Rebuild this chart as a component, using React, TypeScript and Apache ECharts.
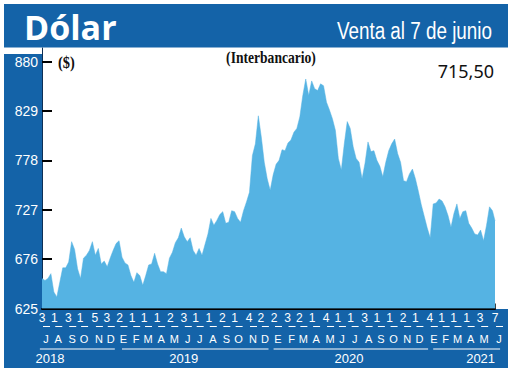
import React, { useEffect, useRef } from "react";
import * as echarts from "echarts";

const START = "2018-07-03";
const END = "2021-06-07";
// weekly interbank dollar quotes (every 7 days from START)
const weeklyValues = [
  656, 654, 656, 661, 642, 637, 652, 667, 667, 673,
  694, 686, 666, 656, 677, 680, 685, 694, 680, 687,
  671, 674, 668, 677, 685, 692, 695, 678, 672, 670,
  659, 652, 662, 659, 649, 659, 670, 671, 682, 671,
  663, 663, 661, 677, 683, 693, 698, 708, 699, 694,
  698, 685, 680, 687, 680, 691, 702, 718, 711, 716,
  722, 725, 713, 714, 726, 725, 718, 714, 726, 735,
  745, 783, 795, 824, 802, 776, 759, 747, 763, 774,
  778, 789, 788, 796, 799, 807, 811, 823, 845, 862,
  845, 860, 852, 850, 857, 855, 838, 830, 821, 809,
  780, 768, 795, 818, 811, 792, 780, 776, 759, 775,
  797, 787, 788, 778, 772, 761, 776, 788, 795, 800,
  785, 776, 757, 756, 764, 769, 759, 746, 732, 720,
  708, 698, 733, 734, 738, 736, 730, 721, 709, 723,
  733, 718, 725, 726, 713, 708, 702, 701, 706, 695,
  711, 730, 726,
];
const lastValue = 715.5;
const lastValueText = "715,50";

const yTicks = [625, 676, 727, 778, 829, 880];

const dayLabelDates = [
  "2018-07-03", "2018-08-01", "2018-09-03", "2018-10-01", "2018-11-05", "2018-12-03",
  "2019-01-02", "2019-02-01", "2019-03-01", "2019-04-01", "2019-05-02", "2019-06-03",
  "2019-07-01", "2019-08-01", "2019-09-02", "2019-10-01", "2019-11-04", "2019-12-02",
  "2020-01-02", "2020-02-03", "2020-03-02", "2020-04-01", "2020-05-04", "2020-06-01",
  "2020-07-01", "2020-08-03", "2020-09-01", "2020-10-01", "2020-11-02", "2020-12-01",
  "2021-01-04", "2021-02-01", "2021-03-01", "2021-04-01", "2021-05-03", "2021-06-07",
];
const monthLetters = [
  "J", "A", "S", "O", "N", "D",
  "E", "F", "M", "A", "M", "J", "J", "A", "S", "O", "N", "D",
  "E", "F", "M", "A", "M", "J", "J", "A", "S", "O", "N", "D",
  "E", "F", "M", "A", "M", "J",
];
const yearLabels = ["2018", "2019", "2020", "2021"];
const yearLabelDates = ["2018-07-22", "2019-06-03", "2020-06-27", "2021-05-04"];
const yearSpans = [
  ["2018-06-28", "2018-12-22"],
  ["2019-01-08", "2019-12-20"],
  ["2020-01-01", "2020-12-31"],
  ["2021-01-12", "2021-06-19"],
];

const BLUE = "#1463a8";
const AREA = "#55b3e3";
const NARROW = "'Liberation Sans Narrow', 'Liberation Sans', Arial, sans-serif";
const DAY = 86400000;

export default function App() {
  const ref = useRef<HTMLDivElement>(null);
  useEffect(() => {
    if (!ref.current) return;
    const chart = echarts.init(ref.current, null, { renderer: "svg" });
    const startTs = Date.parse(START);
    const endTs = Date.parse(END);
    const data: [number, number][] = weeklyValues.map((v, i) => [startTs + i * 7 * DAY, v]);
    data.push([endTs, lastValue]);
    const dayTs = dayLabelDates.map((d) => Date.parse(d));
    const yearTs = yearLabelDates.map((d) => Date.parse(d));

    const baseX = {
      type: "value",
      min: startTs,
      max: endTs,
      gridIndex: 0,
      position: "bottom",
      splitLine: { show: false },
      axisLine: { show: false },
      axisTick: { show: false },
    };

    const staticGraphic: any[] = [
      { type: "rect", z: -1, shape: { x: 4, y: 4, width: 504, height: 43.5 }, style: { fill: BLUE } },
      { type: "rect", z: -1, shape: { x: 4, y: 54, width: 38, height: 314 }, style: { fill: BLUE } },
      { type: "rect", z: -1, shape: { x: 4, y: 309, width: 504, height: 59 }, style: { fill: BLUE } },
      {
        type: "text", z: 10, x: 24, y: 27,
        style: { text: "Dólar", fill: "#fff", font: "bold 34px 'Open Sans', sans-serif", verticalAlign: "middle" },
      },
      {
        type: "text", z: 10, x: 492, y: 31, scaleX: 0.82,
        style: { text: "Venta al 7 de junio", fill: "#fff", font: "23px 'Liberation Sans', sans-serif", align: "right", verticalAlign: "middle" },
      },
      {
        type: "text", z: 10, x: 58, y: 62, scaleX: 0.9,
        style: { text: "($)", fill: "#111", font: "bold 16px 'Liberation Serif', serif", verticalAlign: "middle" },
      },
      {
        type: "text", z: 10, x: 271, y: 58, scaleX: 0.85,
        style: { text: "(Interbancario)", fill: "#111", font: "bold 16px 'Liberation Serif', serif", align: "center", verticalAlign: "middle" },
      },
      {
        type: "text", z: 10, x: 494, y: 71,
        style: { text: lastValueText, fill: "#111", font: "18px 'Noto Sans', sans-serif", align: "right", verticalAlign: "middle" },
      },
    ];

    chart.setOption({
      animation: false,
      backgroundColor: "#fff",
      grid: { left: 42, right: 25, top: 48, bottom: 64.5, containLabel: false },
      xAxis: [
        {
          ...baseX,
          axisLine: { show: true, lineStyle: { color: "#000", width: 2 } },
          axisTick: { show: true, inside: true, length: 5, customValues: [endTs], lineStyle: { color: "#000", width: 1.5 } },
          axisLabel: {
            customValues: dayTs,
            formatter: (v: number) => String(new Date(v).getUTCDate()),
            color: "#fff",
            fontSize: 12,
            fontFamily: NARROW,
            margin: 3,
          },
        },
        {
          ...baseX,
          axisLabel: {
            customValues: dayTs,
            formatter: (v: number) => monthLetters[dayTs.indexOf(v)] ?? "",
            padding: [0, 0, 0, 8],
            color: "#fff",
            fontSize: 11,
            fontFamily: NARROW,
            margin: 25,
          },
        },
        {
          ...baseX,
          axisLabel: {
            customValues: yearTs,
            formatter: (v: number) => yearLabels[yearTs.indexOf(v)] ?? "",
            color: "#fff",
            fontSize: 13,
            fontFamily: NARROW,
            margin: 43,
          },
        },
      ],
      yAxis: {
        type: "value",
        min: 625,
        max: 894,
        splitLine: { show: false },
        axisLine: { show: true, lineStyle: { color: "#0d2f55", width: 1 } },
        axisTick: { show: true, inside: true, length: 10, customValues: yTicks, lineStyle: { color: "#000", width: 2 } },
        axisLabel: {
          customValues: yTicks,
          color: "#fff",
          fontSize: 14,
          fontFamily: NARROW,
          margin: 4,
        },
      },
      series: [
        {
          type: "line",
          xAxisIndex: 0,
          data,
          symbol: "none",
          smooth: false,
          lineStyle: { color: AREA, width: 0.5 },
          areaStyle: { color: AREA, opacity: 1 },
          z: 1,
        },
      ],
      graphic: staticGraphic,
    });

    const px = (t: number) => chart.convertToPixel({ xAxisIndex: 0 }, t) as number;
    const lines = yearSpans.map(([a, b]) => ({
      type: "line", z: 10,
      shape: { x1: px(Date.parse(a)), y1: 349, x2: px(Date.parse(b)), y2: 349 },
      style: { stroke: "#fff", lineWidth: 1 },
    }));
    const dashes = dayTs.map((t) => ({
      type: "line", z: 10,
      shape: { x1: px(t) + 1, y1: 326.5, x2: px(t) + 8, y2: 326.5 },
      style: { stroke: "#fff", lineWidth: 1 },
    }));
    chart.setOption({ graphic: [...staticGraphic, ...lines, ...dashes] });

    return () => chart.dispose();
  }, []);
  return <div ref={ref} style={{ position: "fixed", left: 0, top: 0, width: 520, height: 373 }} />;
}
